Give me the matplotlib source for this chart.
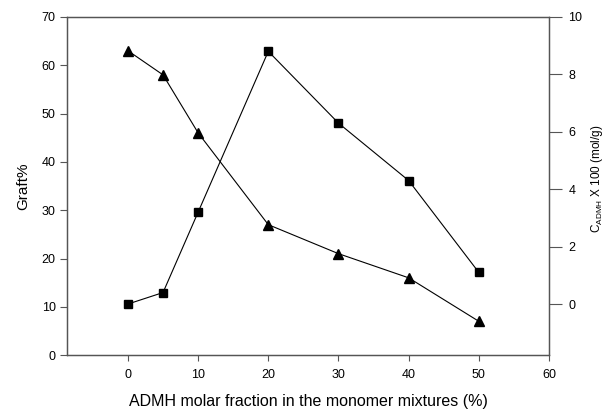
import matplotlib.pyplot as plt

plt.rcParams['font.family'] = ['Liberation Sans', 'DejaVu Sans']
plt.rcParams['mathtext.fontset'] = 'custom'
plt.rcParams['mathtext.rm'] = 'Liberation Sans'
plt.rcParams['mathtext.it'] = 'Liberation Sans'

# ADMH molar fraction (%)
x_frac = [0, 5, 10, 20, 30, 40, 50]
# Graft% (triangles, left axis)
graft = [63, 58, 46, 27, 21, 16, 7]
# C_ADMH x 100 (squares, right axis)
c_admh = [0.0, 0.4, 3.2, 8.8, 6.3, 4.3, 1.1]

fig = plt.figure(figsize=(6.08, 4.12), dpi=100)
ax = fig.add_axes([0.110, 0.138, 0.793, 0.821])
ax2 = ax.twinx()

spine_col = '#555555'

ax.plot(x_frac, graft, color='black', linewidth=0.8, marker='^', markersize=6.5)
ax2.plot(x_frac, c_admh, color='black', linewidth=0.8, marker='s', markersize=6)

ax.set_xlim(-8.7, 60)
ax.set_ylim(0, 70)
ax.set_xticks(range(0, 61, 10))
ax.set_yticks(range(0, 71, 10))
ax2.set_ylim(-1.78, 10)
ax2.set_yticks(range(0, 11, 2))

for a in (ax, ax2):
    for s in a.spines.values():
        s.set_color(spine_col)
        s.set_linewidth(0.9)

ax.tick_params(axis='y', direction='out', length=5, width=0.8, color=spine_col, labelsize=9, pad=3)
ax.tick_params(axis='x', direction='out', length=4, width=0.8, color=spine_col, labelsize=9, pad=6)
ax2.tick_params(axis='y', direction='out', length=9, width=0.8, color=spine_col, labelsize=9, pad=5)

ax.set_xlabel('ADMH molar fraction in the monomer mixtures (%)', fontsize=11.5)
ax.xaxis.set_label_coords(0.5, -0.115)
ax.set_ylabel('Graft%', fontsize=11)
ax.yaxis.set_label_coords(-0.075, 0.5)
fig.text(0.982, 0.566, r'C$_{\mathrm{ADMH}}$ X 100 (mol/g)', fontsize=8.5,
         rotation=90, ha='center', va='center')

fig.savefig('out.png', dpi=100)
